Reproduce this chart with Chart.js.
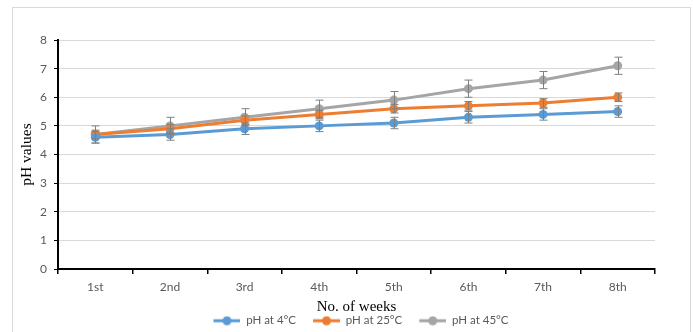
<!DOCTYPE html>
<html>
<head>
<meta charset="utf-8">
<script src="https://cdn.jsdelivr.net/npm/chart.js@4/dist/chart.umd.min.js"></script>
<style>
  html, body { margin: 0; padding: 0; background: #fff; overflow: hidden; }
  #frame { position: absolute; left: 12px; top: 7px; width: 677px; height: 400px; border: 1px solid #d9d9d9; }
  #c { position: absolute; left: 0; top: 0; }
</style>
</head>
<body>
<div id="frame"></div>
<canvas id="c" width="693" height="332"></canvas>
<script>
const weeks = ['1st', '2nd', '3rd', '4th', '5th', '6th', '7th', '8th'];
const ph4 = [4.6, 4.7, 4.9, 5.0, 5.1, 5.3, 5.4, 5.5];
const ph25 = [4.7, 4.9, 5.2, 5.4, 5.6, 5.7, 5.8, 6.0];
const ph45 = [4.7, 5.0, 5.3, 5.6, 5.9, 6.3, 6.6, 7.1];
const err4 = [0.2, 0.2, 0.2, 0.2, 0.2, 0.2, 0.2, 0.2];
const err25 = [0.15, 0.15, 0.15, 0.15, 0.15, 0.15, 0.15, 0.15];
const err45 = [0.3, 0.3, 0.3, 0.3, 0.3, 0.3, 0.3, 0.3];
const seriesNames = ['pH at 4°C', 'pH at 25°C', 'pH at 45°C'];
const colors = ['#5B9BD5', '#ED7D31', '#A5A5A5'];

function legendIcon(color) {
  const cv = document.createElement('canvas');
  cv.width = 36; cv.height = 10;
  const g = cv.getContext('2d');
  g.strokeStyle = color; g.lineWidth = 3;
  g.beginPath(); g.moveTo(9, 5); g.lineTo(36, 5); g.stroke();
  g.fillStyle = color;
  g.beginPath(); g.arc(22.5, 5, 4.5, 0, Math.PI * 2); g.fill();
  return cv;
}
const icons = colors.map(legendIcon);

const errorBars = {
  id: 'errorBars',
  afterDatasetsDraw(chart) {
    const ctx = chart.ctx;
    const x = chart.scales.x, y = chart.scales.y;
    ctx.save();
    ctx.strokeStyle = '#7f7f7f';
    ctx.lineWidth = 1;
    chart.data.datasets.forEach((ds) => {
      ds.errors.forEach((e, i) => {
        const px = Math.round(x.getPixelForValue(i)) + 0.5;
        const top = y.getPixelForValue(ds.data[i] + e);
        const bot = y.getPixelForValue(ds.data[i] - e);
        ctx.beginPath();
        ctx.moveTo(px, top); ctx.lineTo(px, bot);
        ctx.moveTo(px - 4, top); ctx.lineTo(px + 4, top);
        ctx.moveTo(px - 4, bot); ctx.lineTo(px + 4, bot);
        ctx.stroke();
      });
    });
    ctx.restore();
  }
};

const legendHeight = {
  id: 'legendHeight',
  beforeInit(chart) {
    const orig = chart.legend.fit;
    chart.legend.fit = function () { orig.call(this); this.height = 25; };
  }
};

const tickFont = { family: 'Lato', size: 12 };
const legendFont = { family: 'Lato', size: 11.5 };

new Chart(document.getElementById('c'), {
  type: 'line',
  data: {
    labels: weeks,
    datasets: [
      { label: seriesNames[0], data: ph4, errors: err4 },
      { label: seriesNames[1], data: ph25, errors: err25 },
      { label: seriesNames[2], data: ph45, errors: err45 }
    ].map((d, i) => Object.assign(d, {
      borderColor: colors[i], backgroundColor: colors[i],
      pointBackgroundColor: colors[i], pointBorderColor: colors[i],
      borderWidth: 3, pointRadius: 4.5, pointBorderWidth: 0, tension: 0
    }))
  },
  options: {
    responsive: false,
    animation: false,
    layout: { padding: { left: 0, right: 38, top: 40, bottom: 0 } },
    scales: {
      x: {
        offset: true,
        grid: { display: true, drawOnChartArea: false, offset: true, tickColor: '#000', tickLength: 5, lineWidth: 1.5 },
        border: { color: '#000', width: 2 },
        ticks: { color: '#595959', font: tickFont, padding: 6 },
        title: { display: true, text: 'No. of weeks', color: '#000',
                 font: { family: 'Liberation Serif', size: 15 }, padding: { top: 0, bottom: -9 } },
        afterFit(s) { s.height = 38; }
      },
      y: {
        min: 0, max: 8,
        ticks: { stepSize: 1, color: '#595959', font: tickFont, padding: 7 },
        grid: { color: '#d9d9d9', lineWidth: 1, tickColor: '#000', tickLength: 4 },
        border: { color: '#000', width: 2 },
        title: { display: true, text: 'pH values', color: '#000',
                 font: { family: 'Liberation Serif', size: 15.5 }, padding: { top: 18, bottom: 0 } },
        afterFit(s) { s.width = 58; }
      }
    },
    plugins: {
      tooltip: { enabled: false },
      legend: {
        position: 'bottom',
        fullSize: false,
        labels: {
          usePointStyle: true,
          pointStyleWidth: 36,
          padding: 8,
          color: '#595959',
          font: legendFont,
          generateLabels(chart) {
            return Chart.defaults.plugins.legend.labels.generateLabels(chart).map((l, i) => {
              l.pointStyle = icons[i];
              return l;
            });
          }
        }
      }
    }
  },
  plugins: [errorBars, legendHeight]
});
</script>
</body>
</html>
